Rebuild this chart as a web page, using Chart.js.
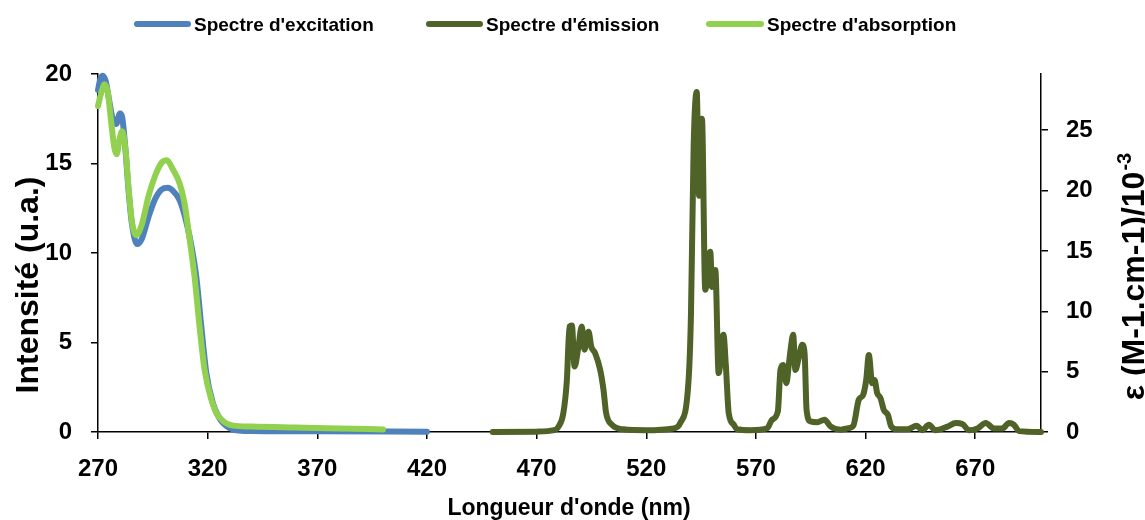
<!DOCTYPE html>
<html><head><meta charset="utf-8">
<script src="https://cdn.jsdelivr.net/npm/chart.js@4"></script>
<style>html,body{margin:0;padding:0;background:#fff}#wrap{width:1145px;height:520px;position:relative}</style>
</head><body><div id="wrap"><canvas id="c" width="1145" height="520"></canvas></div>
<script>
const seriesNames = ["Spectre d'excitation", "Spectre d'émission", "Spectre d'absorption"];
const xTitle = "Longueur d'onde (nm)";
const yLeftTitle = "Intensité (u.a.)";
const yRightTitleMain = "ε (M-1.cm-1)/10";
const yRightTitleSup = "-3";

const xTicks = [270, 320, 370, 420, 470, 520, 570, 620, 670];
const yLeftTicks = [0, 5, 10, 15, 20];
const yRightTicks = [0, 5, 10, 15, 20, 25];

// Spectre d'excitation (left axis)
const excitationNm  = [270, 271, 272.2, 273.5, 275, 276.5, 278.3, 280, 281, 282.5, 284, 285.5, 287.9, 290, 293, 296, 299, 301.9, 304, 307.2, 309.5, 311.8, 314.8, 317.1, 319.4, 322.4, 325, 327, 330, 333, 340, 370, 420];
const excitationVal = [19.1, 19.7, 19.9, 19.6, 18.6, 17.6, 17.2, 17.8, 17.6, 15.8, 13.4, 11.6, 10.5, 10.8, 12.0, 13.0, 13.55, 13.65, 13.5, 12.96, 12.1, 10.9, 8.7, 5.9, 3.3, 1.6, 0.85, 0.5, 0.22, 0.1, 0.06, 0.04, 0.02];

// Spectre d'émission (left axis)
const emissionNm  = [450, 470, 478, 480, 482.2, 483.8, 485, 486.1, 487.3, 489.1, 490.6, 491.8, 493.7, 494.9, 496.7, 499, 500.5, 501.7, 504.3, 509.6, 520, 532.5, 535.5, 539.3, 540.4, 541.6, 543.0, 544.1, 545.4, 546.9, 549.2, 550, 551.5, 553, 555.2, 556.3, 557.6, 559.9, 561.4, 567.6, 575.1, 577.4, 580, 581.2, 582.4, 583.9, 585, 585.8, 587, 588, 589.5, 591.1, 592.2, 593.1, 594.9, 598, 601.3, 604, 608.6, 611.6, 614.4, 616.9, 618.9, 620.3, 621.5, 623, 624.1, 625.3, 626.8, 628.3, 630.2, 631.7, 634.4, 639, 643.3, 645.8, 648.9, 651.9, 657.3, 661.1, 664.1, 667.2, 671, 674.8, 678.6, 682.4, 685.4, 687.7, 690, 700];
const emissionVal = [0, 0.02, 0.1, 0.3, 1.06, 2.9, 5.9, 5.95, 3.66, 4.78, 5.9, 4.6, 5.6, 4.78, 4.4, 3.47, 2.36, 1.06, 0.41, 0.15, 0.1, 0.2, 0.5, 2.9, 6.65, 15.9, 19.0, 13.2, 17.5, 7.94, 10.07, 8.1, 9.05, 3.29, 5.43, 3.7, 1.06, 0.41, 0.15, 0.1, 0.2, 0.69, 1.15, 3.47, 3.75, 2.73, 3.75, 4.59, 5.43, 3.47, 4.12, 4.87, 4.4, 1.24, 0.59, 0.55, 0.69, 0.31, 0.13, 0.2, 0.35, 1.8, 2.08, 2.92, 4.3, 2.73, 2.9, 2.17, 1.9, 1.24, 0.96, 0.31, 0.15, 0.15, 0.35, 0.1, 0.4, 0.1, 0.3, 0.5, 0.45, 0.1, 0.2, 0.5, 0.2, 0.2, 0.5, 0.4, 0.05, 0];

// Spectre d'absorption (right axis, ε /10^-3)
const absorptionNm  = [270, 271.5, 273, 274.5, 276, 277.5, 278.5, 280, 281, 282.5, 284, 285.5, 287.4, 290, 293, 296, 299, 301.4, 304, 307.2, 309.5, 311, 314, 316.3, 318.6, 321.7, 324, 326.3, 329, 331.6, 340, 360, 380, 400];
const absorptionVal = [27.0, 28.1, 28.8, 28.1, 25.7, 23.5, 23.0, 24.4, 24.9, 23.5, 20.1, 17.4, 16.3, 17.2, 19.5, 21.2, 22.3, 22.5, 21.8, 20.6, 18.9, 17.0, 12.9, 8.75, 5.15, 2.67, 1.56, 1.03, 0.67, 0.53, 0.45, 0.37, 0.3, 0.21];

const colors = ['#4F81BD', '#4F6228', '#92D050'];
const FONT = "'Liberation Sans', Arial, sans-serif";

function pts(xs, ys) { return xs.map((x, i) => ({ x: x, y: ys[i] })); }

const legendLayout = [
  { x0: 134, x1: 191, tx: 194 },
  { x0: 426, x1: 483, tx: 486 },
  { x0: 706, x1: 764, tx: 767 }
];

const deco = {
  id: 'deco',
  afterDraw(chart) {
    const ctx = chart.ctx;
    ctx.save();
    // legend
    ctx.lineCap = 'round';
    ctx.font = "bold 19px " + FONT;
    ctx.textBaseline = 'alphabetic';
    ctx.textAlign = 'left';
    seriesNames.forEach((n, i) => {
      const L = legendLayout[i];
      ctx.strokeStyle = colors[i];
      ctx.lineWidth = 6;
      ctx.beginPath(); ctx.moveTo(L.x0 + 3, 24); ctx.lineTo(L.x1 - 3, 24); ctx.stroke();
      ctx.fillStyle = '#000';
      ctx.fillText(n, L.tx, 31);
    });
    // x title
    ctx.font = "bold 23px " + FONT;
    ctx.textAlign = 'center';
    ctx.fillText(xTitle, 569, 515);
    // left title
    ctx.save();
    ctx.translate(38, 285);
    ctx.rotate(-Math.PI / 2);
    ctx.font = "bold 32px " + FONT;
    ctx.textAlign = 'center';
    ctx.fillText(yLeftTitle, 0, 0);
    ctx.restore();
    // right title
    ctx.save();
    ctx.translate(1144, 277);
    ctx.rotate(-Math.PI / 2);
    ctx.font = "bold 32px " + FONT;
    const wMain = ctx.measureText(yRightTitleMain).width;
    ctx.font = "bold 20px " + FONT;
    const wSup = ctx.measureText(yRightTitleSup).width;
    const start = -(wMain + wSup) / 2;
    ctx.textAlign = 'left';
    ctx.font = "bold 32px " + FONT;
    ctx.fillText(yRightTitleMain, start, 0);
    ctx.font = "bold 20px " + FONT;
    ctx.fillText(yRightTitleSup, start + wMain + 1, -13);
    ctx.restore();
    ctx.restore();
  }
};

const tickFont = { family: FONT, size: 24, weight: 'bold' };
const axisGrid = { drawOnChartArea: false, drawTicks: true, tickLength: 7, color: '#000', lineWidth: 1.5 };
const axisBorder = { display: true, color: '#000', width: 1.5 };

new Chart(document.getElementById('c'), {
  type: 'line',
  data: {
    datasets: [
      { label: seriesNames[0], data: pts(excitationNm, excitationVal), borderColor: colors[0], yAxisID: 'y', order: 2, cubicInterpolationMode: 'monotone' },
      { label: seriesNames[1], data: pts(emissionNm, emissionVal), borderColor: colors[1], yAxisID: 'y', order: 1, cubicInterpolationMode: 'monotone' },
      { label: seriesNames[2], data: pts(absorptionNm, absorptionVal), borderColor: colors[2], yAxisID: 'y2', order: 0, cubicInterpolationMode: 'monotone' }
    ]
  },
  options: {
    responsive: false,
    animation: false,
    devicePixelRatio: 1,
    layout: { padding: { top: 74, left: 0, right: 0, bottom: 0 } },
    elements: {
      point: { radius: 0 },
      line: { borderWidth: 6, borderCapStyle: 'round', borderJoinStyle: 'round', fill: false }
    },
    datasets: { line: { clip: false } },
    plugins: { legend: { display: false }, tooltip: { enabled: false } },
    scales: {
      x: {
        type: 'linear', min: 270, max: 700,
        afterBuildTicks: s => { s.ticks = xTicks.map(v => ({ value: v })); },
        afterFit: s => { s.height = 88; },
        grid: axisGrid, border: axisBorder,
        ticks: { font: tickFont, color: '#000', padding: 16, maxRotation: 0, autoSkip: false }
      },
      y: {
        position: 'left', min: 0, max: 20,
        afterBuildTicks: s => { s.ticks = yLeftTicks.map(v => ({ value: v })); },
        afterFit: s => { s.width = 98; },
        grid: axisGrid, border: axisBorder,
        ticks: { font: tickFont, color: '#000', padding: 19 }
      },
      y2: {
        position: 'right', min: 0, max: 29.65,
        afterBuildTicks: s => { s.ticks = yRightTicks.map(v => ({ value: v })); },
        afterFit: s => { s.width = 104; },
        grid: axisGrid, border: axisBorder,
        ticks: { font: tickFont, color: '#000', padding: 18 }
      }
    }
  },
  plugins: [deco]
});
</script>
</body></html>
